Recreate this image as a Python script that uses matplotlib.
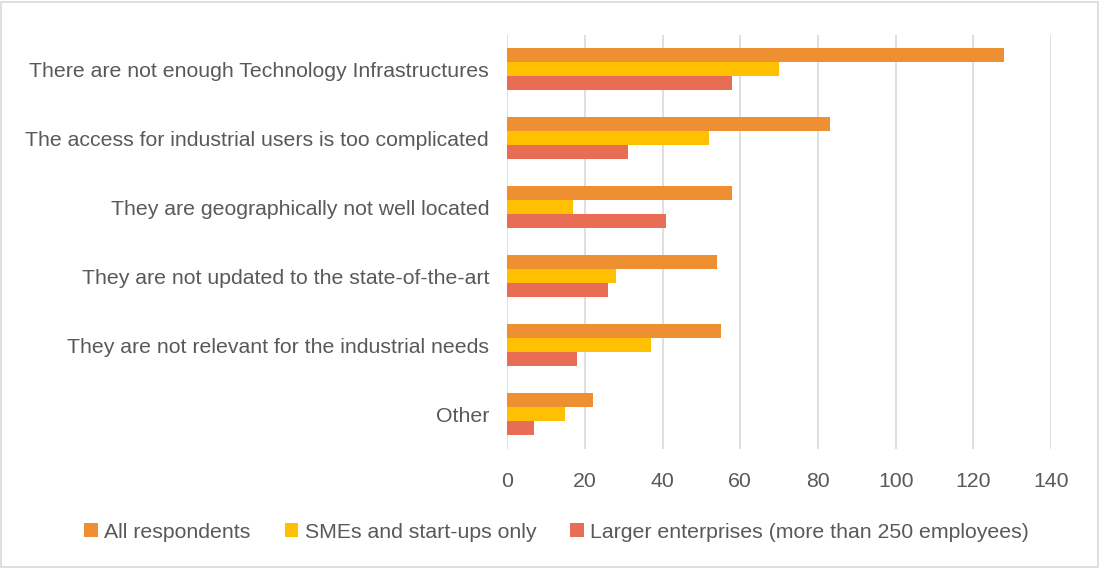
import matplotlib.pyplot as plt
import numpy as np
from matplotlib.patches import Rectangle

# Reasons given for not using technology infrastructures
categories = [
    "There are not enough Technology Infrastructures",
    "The access for industrial users is too complicated",
    "They are geographically not well located",
    "They are not updated to the state-of-the-art",
    "They are not relevant for the industrial needs",
    "Other",
]
series_names = [
    "All respondents",
    "SMEs and start-ups only",
    "Larger enterprises (more than 250 employees)",
]
all_respondents = [128, 83, 58, 54, 55, 22]
smes_startups = [70, 52, 17, 28, 37, 15]
larger_enterprises = [58, 31, 41, 26, 18, 7]
x_ticks = [0, 20, 40, 60, 80, 100, 120, 140]

colors = ["#EE8F31", "#FFC000", "#E96C55"]
text_color = "#595959"
grid_color = "#D9D9D9"

fig = plt.figure(figsize=(11, 5.68), dpi=100)
ax = fig.add_axes([0.461, 0.210, 0.4945, 0.729])

y = np.arange(len(categories))
bar_h = 0.205
for i, (vals, col, name) in enumerate(
    zip([all_respondents, smes_startups, larger_enterprises], colors, series_names)
):
    ax.barh(y + (i - 1) * bar_h, vals, height=bar_h, color=col, label=name, zorder=3)

ax.set_ylim(len(categories) - 0.5, -0.5)
ax.set_xlim(0, 140)
ax.set_yticks(y)
ax.set_yticklabels(categories, fontsize=15.3, color=text_color, family="Liberation Sans")
ax.set_xticks(x_ticks)
ax.set_xticklabels([str(t) for t in x_ticks], fontsize=15.3, color=text_color,
                   family="Liberation Sans")
ax.tick_params(axis="both", length=0)
ax.tick_params(axis="y", pad=13)
ax.tick_params(axis="x", pad=17)
ax.grid(True, axis="x", color=grid_color, linewidth=1.2, zorder=0)
for s in ax.spines.values():
    s.set_visible(False)

fig.legend(
    loc="center",
    bbox_to_anchor=(0.506, 0.063),
    ncol=3,
    frameon=False,
    handlelength=0.65,
    handleheight=0.65,
    handletextpad=0.3,
    columnspacing=1.6,
    prop={"family": "Liberation Sans", "size": 15.3},
    labelcolor=text_color,
)

# thin light border around the whole chart
fig.patches.append(Rectangle((0.001, 0.002), 0.997, 0.995, transform=fig.transFigure,
                             fill=False, edgecolor=grid_color, linewidth=1.2))

fig.savefig("out.png", dpi=100)
